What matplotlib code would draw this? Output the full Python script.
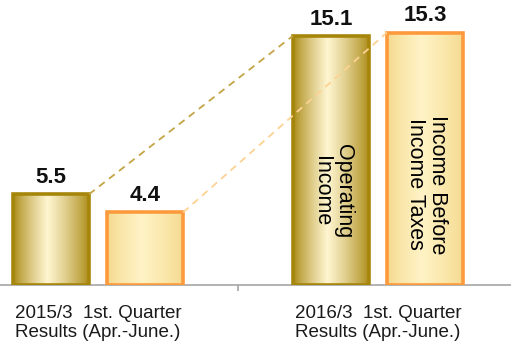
import numpy as np
import matplotlib.pyplot as plt
from matplotlib.patches import Rectangle
from matplotlib.colors import to_rgb

plt.rcParams['font.family'] = ['Liberation Sans', 'DejaVu Sans']

# values (billion yen)
periods = ['2015/3  1st. Quarter\nResults (Apr.-June.)',
           '2016/3  1st. Quarter\nResults (Apr.-June.)']
operating_income = [5.5, 15.1]
income_before_tax = [4.4, 15.3]
series_names = ['Operating\nIncome', 'Income Before\nIncome Taxes']

bar_w = 0.272
offset = 0.168

# edge colour, centre colour, border colour, connector colour
styles = [
    ('#a8870f', '#fff6d2', '#a5860a', '#c4a545'),
    ('#f4d98c', '#fff3c6', '#fd9a3c', '#fdd293'),
]

fig = plt.figure(figsize=(5.11, 3.48), dpi=100)
ax = fig.add_axes([0, 63 / 348, 1, 285 / 348])
ax.set_xlim(-0.35, 1.475)
ax.set_ylim(0, 285 / 16.5)


def gradient_bar(ax, x, h, edge, centre, border):
    x0 = x - bar_w / 2
    n = 200
    t = np.linspace(0, 1, n)
    peak = 0.45
    w = np.where(t < peak, t / peak, (1 - t) / (1 - peak))
    w = np.clip(w, 0, 1) ** 0.8
    c0 = np.array(to_rgb(edge))
    c1 = np.array(to_rgb(centre))
    img = c0[None, :] * (1 - w[:, None]) + c1[None, :] * w[:, None]
    im = ax.imshow(img[None, :, :], extent=[x0, x0 + bar_w, 0, h],
                   aspect='auto', zorder=2, interpolation='bilinear')
    rect = Rectangle((x0, 0), bar_w, h, facecolor='none', edgecolor=border,
                     linewidth=2.6, zorder=3)
    ax.add_patch(rect)
    im.set_clip_path(rect)


centres = np.arange(len(periods))
all_series = [operating_income, income_before_tax]
for s, (vals, off) in enumerate(zip(all_series, [-offset, offset])):
    edge, centre, border, dash = styles[s]
    for i, v in enumerate(vals):
        x = centres[i] + off
        gradient_bar(ax, x, v, edge, centre, border)
        ax.annotate(f'{v:.1f}', (x, v), xytext=(0, 4.5), textcoords='offset points',
                    ha='center', va='bottom', fontsize=16, fontweight='bold',
                    color='#111111', zorder=5)
    # dashed connector between the two periods
    ax.plot([centres[0] + off + bar_w / 2, centres[1] + off - bar_w / 2],
            [vals[0], vals[1]], linestyle=(0, (4, 3)), color=dash,
            linewidth=1.3, zorder=4)

# series names written inside the 2016/3 bars
ax.text(centres[1] - offset + 0.005, 5.7, series_names[0], rotation=-90,
        ha='center', va='center', fontsize=15.5, linespacing=1.1, zorder=5)
ax.text(centres[1] + offset + 0.005, 6.1, series_names[1], rotation=-90,
        ha='center', va='center', fontsize=15.5, linespacing=1.1, zorder=5)

for i, lab in enumerate(periods):
    ax.text(centres[i], -2.3, lab, ha='center', va='center', fontsize=13.5,
            linespacing=1.15, color='#1a1a1a', clip_on=False)

for side in ['top', 'right', 'left']:
    ax.spines[side].set_visible(False)
ax.spines['bottom'].set_color('#a6a6a6')
ax.spines['bottom'].set_linewidth(1.2)
ax.set_yticks([])
ax.set_xticks([0.5])
ax.set_xticklabels([])
ax.tick_params(axis='x', length=4, color='#a6a6a6', width=1.2)

fig.savefig('out.png', dpi=100)
